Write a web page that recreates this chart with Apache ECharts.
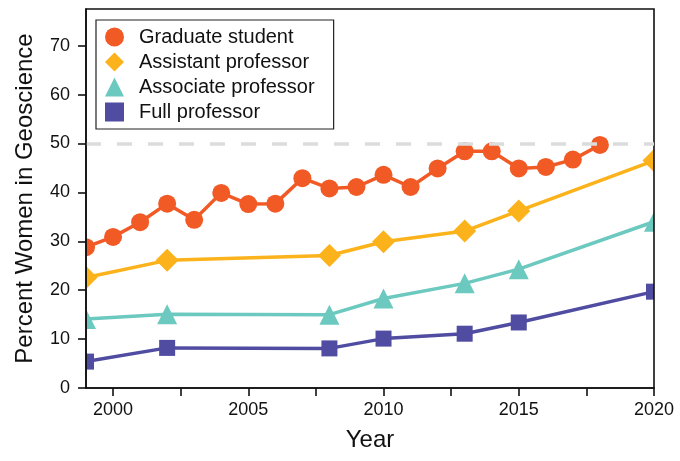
<!DOCTYPE html>
<html><head><meta charset="utf-8">
<script src="https://cdn.jsdelivr.net/npm/echarts@6/dist/echarts.min.js"></script>
<style>html,body{margin:0;padding:0;background:#fff}#c{width:680px;height:461px}</style>
</head><body><div id="c"></div>
<script>
const seriesNames = ['Graduate student', 'Assistant professor', 'Associate professor', 'Full professor'];
const gradYears = [1999, 2000, 2001, 2002, 2003, 2004, 2005, 2006, 2007, 2008, 2009, 2010, 2011, 2012, 2013, 2014, 2015, 2016, 2017, 2018];
const gradValues = [28.8, 30.9, 33.9, 37.7, 34.4, 39.9, 37.6, 37.7, 42.9, 40.8, 41.1, 43.6, 41.1, 44.9, 48.4, 48.4, 44.9, 45.2, 46.7, 49.7];
const facultyYears = [1999, 2002, 2008, 2010, 2013, 2015, 2020];
const assistantValues = [22.6, 26.1, 27.1, 29.9, 32.1, 36.2, 46.5];
const associateValues = [14.1, 15.1, 15.0, 18.3, 21.4, 24.3, 34.0];
const fullValues = [5.4, 8.2, 8.1, 10.1, 11.1, 13.4, 19.7];
const xTickValues = [2000, 2002.5, 2005, 2007.5, 2010, 2012.5, 2015, 2017.5, 2020];
const xLabelValues = [2000, 2005, 2010, 2015, 2020];
const yTickValues = [0, 10, 20, 30, 40, 50, 60, 70];
const parityValue = 50;

const FONT = 'Liberation Sans, Arial, Helvetica, sans-serif';
const colors = ['#F15A25', '#FBB21B', '#6CC9BF', '#504CA1'];
const symbols = ['circle', 'diamond', 'triangle', 'rect'];
const symbolSizes = [18, 23, 20, 16];

const pairs = (xs, ys) => xs.map((x, i) => [x, ys[i]]);
const valueSets = [pairs(gradYears, gradValues), pairs(facultyYears, assistantValues), pairs(facultyYears, associateValues), pairs(facultyYears, fullValues)];

const chart = echarts.init(document.getElementById('c'), null, {renderer: 'canvas'});
const series = seriesNames.map((name, i) => ({
  name: name,
  type: 'line',
  data: valueSets[i],
  symbol: symbols[i],
  symbolSize: symbolSizes[i],
  lineStyle: {color: colors[i], width: 3.5},
  itemStyle: {color: colors[i]},
  z: 2 + (3 - i) * 0.1,
  clip: false
}));
series.push({
  name: 'parity',
  type: 'line',
  data: [],
  z: 1,
  markLine: {
    silent: true,
    symbol: ['none', 'none'],
    label: {show: false},
    lineStyle: {color: '#DCDCDC', type: [15, 16], width: 3.5},
    data: [{yAxis: parityValue}]
  }
});

chart.setOption({
  animation: false,
  backgroundColor: '#fff',
  grid: {left: 86, right: 26, top: 9, bottom: 73, show: true, borderColor: '#111', borderWidth: 1.6, z: 5, outerBoundsMode: 'none'},
  legend: {
    data: seriesNames.map((n, i) => ({name: n, icon: symbols[i]})),
    orient: 'vertical', left: 96, top: 20,
    itemWidth: 19, itemHeight: 19, itemGap: 5,
    padding: [7, 19, 7, 9],
    borderColor: '#222', borderWidth: 1.2, backgroundColor: '#fff',
    textStyle: {fontFamily: FONT, fontSize: 20, lineHeight: 18, color: '#111', padding: [0, 0, 0, 10]},
    selectedMode: false, z: 6
  },
  xAxis: {
    type: 'value', min: 1999, max: 2020, z: 5,
    name: 'Year', nameLocation: 'middle', nameGap: 40,
    nameTextStyle: {fontFamily: FONT, fontSize: 24, color: '#111'},
    axisLine: {show: true, lineStyle: {color: '#111', width: 1.6}},
    axisTick: {show: true, length: 8, lineStyle: {color: '#111', width: 1.6}, customValues: xTickValues},
    axisLabel: {fontFamily: FONT, fontSize: 18, color: '#111', margin: 13, customValues: xLabelValues, formatter: v => String(v)},
    splitLine: {show: false}
  },
  yAxis: {
    type: 'value', min: 0, max: 77.5, z: 5,
    name: 'Percent Women in Geoscience', nameLocation: 'middle', nameGap: 49,
    nameTextStyle: {fontFamily: FONT, fontSize: 24, color: '#111'},
    axisLine: {show: true, lineStyle: {color: '#111', width: 1.6}},
    axisTick: {show: true, length: 8, lineStyle: {color: '#111', width: 1.6}, customValues: yTickValues},
    axisLabel: {fontFamily: FONT, fontSize: 18, color: '#111', margin: 16, customValues: yTickValues, formatter: v => String(v)},
    splitLine: {show: false}
  },
  series: series
});

// white masks just outside the plot frame so edge markers appear clipped
const tl = chart.convertToPixel({gridIndex: 0}, [1999, 77.5]);
const br = chart.convertToPixel({gridIndex: 0}, [2020, 0]);
chart.setOption({
  graphic: [
    {type: 'rect', silent: true, z: 3, shape: {x: tl[0] - 13, y: tl[1], width: 13, height: br[1] - tl[1]}, style: {fill: '#fff'}},
    {type: 'rect', silent: true, z: 3, shape: {x: br[0], y: tl[1], width: 14, height: br[1] - tl[1]}, style: {fill: '#fff'}}
  ]
});
</script></body></html>
